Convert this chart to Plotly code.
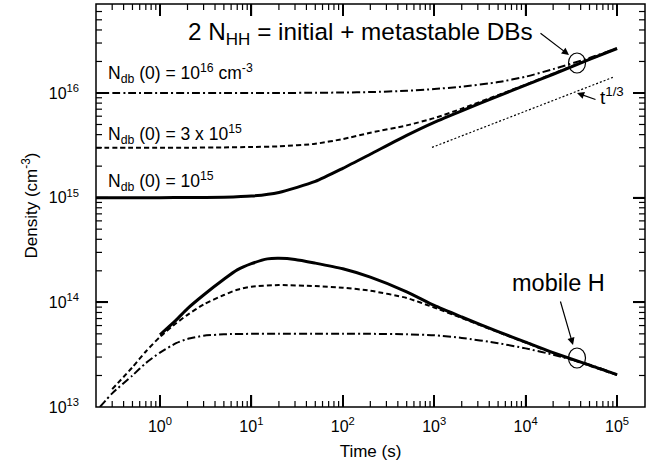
import math
import plotly.graph_objects as go

# ---- data ----
t_top = [0.2, 0.5, 1, 2, 5, 10, 20, 50, 100, 200, 500, 1000, 2000, 5000, 1e4, 2e4, 5e4, 1e5]
nhh_1e15 = [1.0e15, 1.0e15, 1.0e15, 1.002e15, 1.009e15, 1.035e15, 1.122e15, 1.429e15, 1.905e15,
            2.60e15, 3.94e15, 5.25e15, 6.76e15, 9.33e15, 1.19e16, 1.51e16, 2.09e16, 2.66e16]
nhh_3e15 = [3.0e15, 3.0e15, 3.0e15, 3.0e15, 3.02e15, 3.05e15, 3.09e15, 3.27e15, 3.63e15,
            4.17e15, 4.90e15, 5.75e15, 7.08e15, 9.55e15, 1.20e16, 1.53e16, 2.10e16, 2.66e16]
nhh_1e16 = [1.0e16, 1.0e16, 1.0e16, 1.0e16, 1.0e16, 1.0e16, 1.0e16, 1.005e16, 1.01e16,
            1.02e16, 1.05e16, 1.09e16, 1.15e16, 1.27e16, 1.43e16, 1.69e16, 2.16e16, 2.68e16]

t_h_1e15 = [1, 1.5, 2, 3, 5, 7, 10, 15, 20, 30, 50, 100, 200, 500, 1000, 2000, 5000, 1e4, 2e4, 5e4, 1e5]
h_1e15 = [4.90e13, 6.76e13, 8.71e13, 1.175e14, 1.66e14, 2.04e14, 2.34e14, 2.60e14, 2.63e14, 2.57e14,
          2.37e14, 2.09e14, 1.74e14, 1.26e14, 9.33e13, 7.24e13, 5.25e13, 4.17e13, 3.31e13, 2.51e13, 2.04e13]

t_h_3e15 = [0.3, 0.5, 0.7, 1, 1.5, 2, 3, 5, 7, 10, 20, 50, 100, 200, 500, 1000, 2000, 5000, 1e4, 2e4, 5e4, 1e5]
h_3e15 = [1.48e13, 2.40e13, 3.39e13, 4.68e13, 6.31e13, 7.59e13, 9.55e13, 1.175e14, 1.32e14, 1.41e14,
          1.46e14, 1.43e14, 1.38e14, 1.29e14, 1.10e14, 8.91e13, 7.08e13, 5.19e13, 4.12e13, 3.27e13, 2.48e13, 2.02e13]

t_h_1e16 = [0.22, 0.3, 0.5, 0.7, 1, 1.5, 2, 3, 5, 10, 20, 50, 100, 200, 500, 1000, 2000, 5000, 1e4, 2e4, 5e4, 1e5]
h_1e16 = [1.0e13, 1.35e13, 2.0e13, 2.63e13, 3.31e13, 4.07e13, 4.47e13, 4.79e13, 4.95e13, 5.0e13,
          5.0e13, 5.0e13, 5.0e13, 5.0e13, 4.95e13, 4.84e13, 4.57e13, 4.07e13, 3.63e13, 3.16e13, 2.54e13, 2.04e13]

t_ref = [946, 9.0e4]
n_ref = [3.02e15, 1.41e16]

x_tickvals = [1, 10, 100, 1000, 1e4, 1e5]
x_ticktext = ["10<sup>0</sup>", "10<sup>1</sup>", "10<sup>2</sup>", "10<sup>3</sup>", "10<sup>4</sup>", "10<sup>5</sup>"]
y_tickvals = [1e13, 1e14, 1e15, 1e16]
y_ticktext = ["10<sup>13</sup>", "10<sup>14</sup>", "10<sup>15</sup>", "10<sup>16</sup>"]

# ---- styling ----
FONT = "Liberation Sans, Arial, Helvetica, sans-serif"
SOLID = dict(color="black", width=3, dash="solid")
DASH = dict(color="black", width=2, dash="5px,3px")
DASHDOT = dict(color="black", width=2, dash="8px,3px,2px,3px")
DOT = dict(color="black", width=1.2, dash="2px,2px")

W, H = 657, 472
ML, MR, MT, MB = 96, 12, 4, 65
PW, PH = W - ML - MR, H - MT - MB

XR = [-0.70, 5.306]
YR = [13.0, 16.85]
TF = dict(family=FONT, size=16, color="black")

fig = go.Figure()
for x, y, ln in [
    (t_top, nhh_1e16, DASHDOT), (t_top, nhh_3e15, DASH), (t_top, nhh_1e15, SOLID),
    (t_h_1e16, h_1e16, DASHDOT), (t_h_3e15, h_3e15, DASH), (t_h_1e15, h_1e15, SOLID),
]:
    fig.add_trace(go.Scatter(x=x, y=y, mode="lines", line=dict(shape="spline", smoothing=0.6, **ln),
                             showlegend=False, hoverinfo="skip"))
fig.add_trace(go.Scatter(x=t_ref, y=n_ref, mode="lines", line=DOT, showlegend=False, hoverinfo="skip"))

common = dict(type="log", showgrid=False, zeroline=False, automargin=False, showline=False,
              ticks="inside", ticklen=12, tickwidth=1.5, tickcolor="black", mirror="ticks")
fig.update_layout(
    xaxis=dict(range=XR, tickmode="array", tickvals=x_tickvals, ticktext=x_ticktext,
               tickfont=TF, ticklabelstandoff=8,
               title=dict(text="Time (s)", font=dict(family=FONT, size=17, color="black"), standoff=11), **common),
    yaxis=dict(range=YR, tickmode="array", tickvals=y_tickvals, ticktext=y_ticktext,
               tickfont=TF, ticklabelstandoff=16,
               title=dict(text="Density (cm<sup>-3</sup>)", font=dict(family=FONT, size=17, color="black"),
                          standoff=6), **common),
)

# ---- inside ticks on all four sides as thin filled bars, placed through the log axis ranges ----
def to_frac(v, rng):
    return (math.log10(v) - rng[0]) / (rng[1] - rng[0])

def decade_ticks(rng, e0, e1):
    major, minor = [], []
    for e in range(e0, e1 + 1):
        for m in range(1, 10):
            v = m * 10.0 ** e
            f = to_frac(v, rng)
            if 0.003 < f < 0.997:
                (major if m == 1 else minor).append(f)
    return major, minor

xmaj, xmin_ = decade_ticks(XR, -1, 5)
ymaj, ymin_ = decade_ticks(YR, 13, 16)
shapes = []
for fr, ln, lw in [(xmaj, 12, 1.5), (xmin_, 6, 1.2)]:
    hw = lw / 2 / PW
    for f in fr:
        for y0, y1 in [(0, ln / PH), (1 - ln / PH, 1)]:
            shapes.append(dict(type="rect", xref="paper", yref="paper", x0=f - hw, x1=f + hw,
                               y0=y0, y1=y1, fillcolor="black", line=dict(width=0), layer="above"))
for fr, ln, lw in [(ymaj, 12, 1.5), (ymin_, 6, 1.2)]:
    hh = lw / 2 / PH
    for f in fr:
        for x0, x1 in [(0, ln / PW), (1 - ln / PW, 1)]:
            shapes.append(dict(type="rect", xref="paper", yref="paper", x0=x0, x1=x1,
                               y0=f - hh, y1=f + hh, fillcolor="black", line=dict(width=0), layer="above"))
# plot frame
shapes.append(dict(type="rect", xref="paper", yref="paper", x0=0, x1=1, y0=0, y1=1,
                   line=dict(color="black", width=1.5)))

def px(xp):
    return (xp - ML) / PW

def py(yp):
    return (MT + PH - yp) / PH

for cx, cy in [(577, 63), (577, 358)]:
    shapes.append(dict(type="circle", xref="paper", yref="paper",
                       x0=px(cx - 8.5), x1=px(cx + 8.5), y0=py(cy + 10), y1=py(cy - 10),
                       line=dict(color="black", width=1.2)))
fig.update_layout(shapes=shapes)

ann = []
def label(text, x, y, size, xanchor="left"):
    ann.append(dict(text=text, x=px(x), y=py(y), xref="paper", yref="paper", xanchor=xanchor,
                    yanchor="middle", showarrow=False, font=dict(family=FONT, size=size, color="black")))

label("N<sub>db</sub> (0) = 10<sup>16</sup> cm<sup>-3</sup>", 106, 74, 17.5)
label("N<sub>db</sub> (0) = 3 x 10<sup>15</sup>", 106, 134, 17.5)
label("N<sub>db</sub> (0) = 10<sup>15</sup>", 106, 182, 17.5)
label("2 N<sub>HH</sub> = initial + metastable DBs", 186, 33, 24.3)
label("mobile H", 558, 283, 23.5, xanchor="center")
label("t<sup>1/3</sup>", 598, 96, 19)

def arrow(hx, hy, tx, ty):
    ann.append(dict(text="", x=px(hx), y=py(hy), xref="paper", yref="paper", ax=tx - hx, ay=ty - hy,
                    showarrow=True, arrowhead=2, arrowsize=1.2, arrowwidth=1.2, arrowcolor="black"))

arrow(569, 55, 539, 32)
arrow(573, 345, 560, 300)
arrow(577, 93, 597, 100)
fig.update_layout(annotations=ann)

fig.update_layout(width=W, height=H, margin=dict(l=ML, r=MR, t=MT, b=MB),
                  plot_bgcolor="white", paper_bgcolor="white",
                  font=dict(family=FONT, color="black"))

fig.write_html("out.html", config={"displayModeBar": False},
               post_script="document.body.style.margin='0';document.body.style.padding='0';")
